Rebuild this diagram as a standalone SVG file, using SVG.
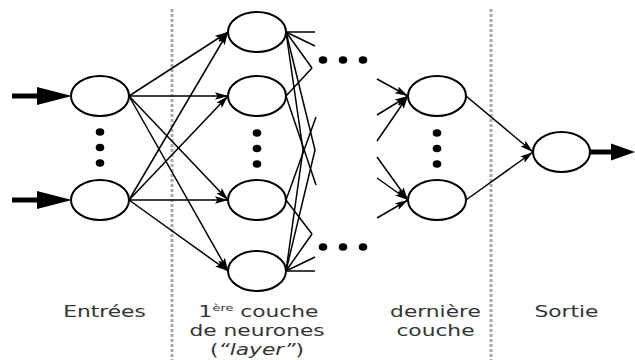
<svg xmlns="http://www.w3.org/2000/svg" width="635" height="360" viewBox="0 0 635 360">
<defs>
<style>
.node{fill:#fff;stroke:#000;stroke-width:2}
.edge{fill:none;stroke:#000;stroke-width:1.5}
.edgeA{fill:none;stroke:#000;stroke-width:1.5;marker-end:url(#ah)}
.thick{fill:none;stroke:#000;stroke-width:5}
.dot{fill:#000}
.sep{stroke:#aaa;stroke-width:3;stroke-dasharray:3 2;fill:none}
.lbl{font-family:"DejaVu Sans",Verdana,sans-serif;font-size:16px;fill:#333;text-anchor:middle}
</style>
<marker id="ah" markerUnits="userSpaceOnUse" markerWidth="14" markerHeight="10" refX="13" refY="5" orient="auto">
<path d="M0,1.2 L13,5 L0,8.8 L2.5,5 z" fill="#000"/>
</marker>
</defs>

<g id="separators">
<line class="sep" x1="172" y1="9" x2="172" y2="360"/>
<line class="sep" x1="491" y1="9" x2="491" y2="360"/>
</g>

<g id="connectors">
<line class="thick" x1="12" y1="96" x2="40" y2="96"/>
<polygon points="37,87 72,96 37,105" fill="#000"/>
<line class="thick" x1="12" y1="200" x2="40" y2="200"/>
<polygon points="37,191 72,200 37,209" fill="#000"/>
<line class="edgeA" x1="129" y1="96" x2="228" y2="32"/>
<line class="edgeA" x1="129" y1="96" x2="228" y2="96"/>
<line class="edgeA" x1="129" y1="96" x2="228" y2="200"/>
<line class="edgeA" x1="129" y1="96" x2="228" y2="271"/>
<line class="edgeA" x1="129" y1="200" x2="228" y2="32"/>
<line class="edgeA" x1="129" y1="200" x2="228" y2="96"/>
<line class="edgeA" x1="129" y1="200" x2="228" y2="200"/>
<line class="edgeA" x1="129" y1="200" x2="228" y2="271"/>
<line class="edge" x1="286" y1="32" x2="315" y2="32"/>
<line class="edge" x1="286" y1="32" x2="315" y2="46"/>
<line class="edge" x1="286" y1="32" x2="312" y2="68"/>
<line class="edge" x1="286" y1="32" x2="303" y2="150"/>
<line class="edge" x1="286" y1="32" x2="315" y2="150"/>
<line class="edge" x1="286" y1="96" x2="312" y2="68"/>
<line class="edge" x1="286" y1="96" x2="316" y2="185"/>
<line class="edge" x1="286" y1="200" x2="316" y2="117"/>
<line class="edge" x1="286" y1="200" x2="312" y2="234"/>
<line class="edge" x1="286" y1="271" x2="315" y2="271"/>
<line class="edge" x1="286" y1="271" x2="315" y2="257"/>
<line class="edge" x1="286" y1="271" x2="312" y2="234"/>
<line class="edge" x1="286" y1="271" x2="303" y2="150"/>
<line class="edge" x1="286" y1="271" x2="315" y2="150"/>
<line class="edgeA" x1="377" y1="79" x2="408" y2="96"/>
<line class="edgeA" x1="377" y1="115" x2="408" y2="96"/>
<line class="edgeA" x1="377" y1="141" x2="408" y2="96"/>
<line class="edgeA" x1="377" y1="157" x2="408" y2="200"/>
<line class="edgeA" x1="377" y1="178" x2="408" y2="200"/>
<line class="edgeA" x1="377" y1="218" x2="408" y2="200"/>
<line class="edgeA" x1="466" y1="96" x2="533" y2="152"/>
<line class="edgeA" x1="466" y1="200" x2="533" y2="152"/>
<line class="thick" x1="590" y1="152" x2="614" y2="152"/>
<polygon points="611,143.5 635,152 611,160.5" fill="#000"/>
</g>

<g id="input1"><ellipse class="node" cx="100" cy="96" rx="29" ry="20"/></g>
<g id="input2"><ellipse class="node" cx="100" cy="200" rx="29" ry="20"/></g>
<g id="input-dots">
<ellipse class="dot" cx="100" cy="132" rx="4.3" ry="3.8"/>
<ellipse class="dot" cx="100" cy="147.5" rx="4.3" ry="3.8"/>
<ellipse class="dot" cx="100" cy="163" rx="4.3" ry="3.8"/>
</g>

<g id="layer1-n1"><ellipse class="node" cx="257" cy="32" rx="29" ry="20"/></g>
<g id="layer1-n2"><ellipse class="node" cx="257" cy="96" rx="29" ry="20"/></g>
<g id="layer1-n3"><ellipse class="node" cx="257" cy="200" rx="29" ry="20"/></g>
<g id="layer1-n4"><ellipse class="node" cx="257" cy="271" rx="29" ry="20"/></g>
<g id="layer1-dots">
<ellipse class="dot" cx="257" cy="133" rx="4.3" ry="3.8"/>
<ellipse class="dot" cx="257" cy="148.5" rx="4.3" ry="3.8"/>
<ellipse class="dot" cx="257" cy="164" rx="4.3" ry="3.8"/>
</g>

<g id="hidden-dots">
<ellipse class="dot" cx="323" cy="60" rx="4.3" ry="3.8"/>
<ellipse class="dot" cx="343" cy="60" rx="4.3" ry="3.8"/>
<ellipse class="dot" cx="363" cy="60" rx="4.3" ry="3.8"/>
<ellipse class="dot" cx="323" cy="247" rx="4.3" ry="3.8"/>
<ellipse class="dot" cx="343" cy="247" rx="4.3" ry="3.8"/>
<ellipse class="dot" cx="363" cy="247" rx="4.3" ry="3.8"/>
</g>

<g id="last-n1"><ellipse class="node" cx="437" cy="96" rx="29" ry="20"/></g>
<g id="last-n2"><ellipse class="node" cx="437" cy="200" rx="29" ry="20"/></g>
<g id="last-dots">
<ellipse class="dot" cx="437" cy="133" rx="4.3" ry="3.8"/>
<ellipse class="dot" cx="437" cy="148.5" rx="4.3" ry="3.8"/>
<ellipse class="dot" cx="437" cy="164" rx="4.3" ry="3.8"/>
</g>

<g id="output"><ellipse class="node" cx="561.5" cy="152" rx="28.5" ry="20"/></g>

<g id="labels" transform="scale(1.36,1)">
<text class="lbl" x="76.8" y="317">Entrées</text>
<text class="lbl" x="190.1" y="317">1<tspan font-size="9.5" dy="-6">ère</tspan><tspan dy="6"> couche</tspan></text>
<text class="lbl" x="189" y="336">de neurones</text>
<text class="lbl" x="189" y="355">(<tspan font-style="italic">“layer”</tspan>)</text>
<text class="lbl" x="320.2" y="317">dernière</text>
<text class="lbl" x="320.2" y="336">couche</text>
<text class="lbl" x="416.5" y="317">Sortie</text>
</g>
</svg>
